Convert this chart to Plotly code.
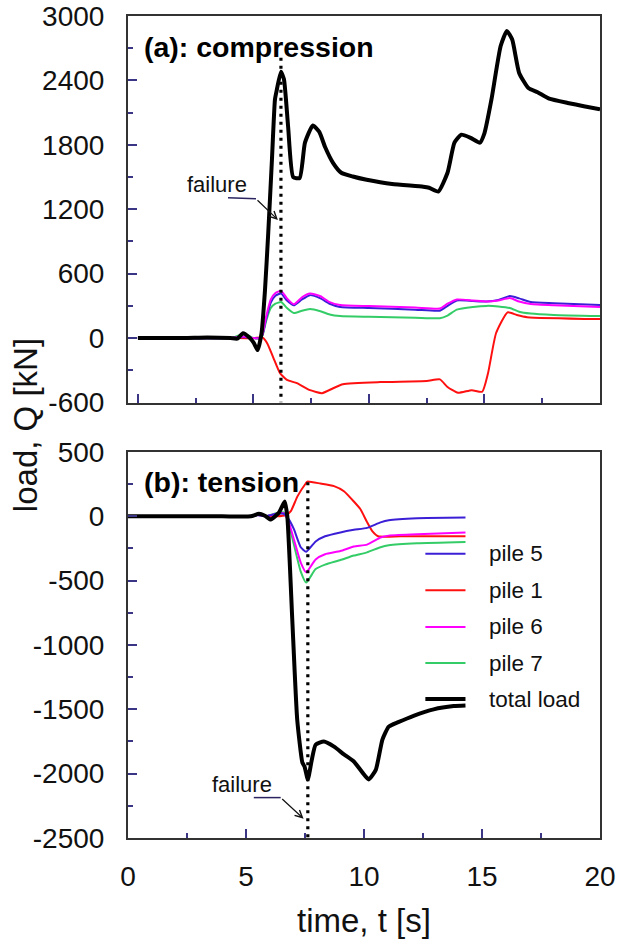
import plotly.graph_objects as go

# ---------------- data: (a) compression ----------------
t_total_a = [0, 1, 2, 3, 4, 4.3, 4.55, 4.8, 5.0, 5.18, 5.35, 5.5, 5.64, 5.8, 5.93, 6.0, 6.19, 6.32, 6.5,
             6.72, 7.0, 7.23, 7.57, 7.85, 8.1, 8.45, 8.8, 9.3, 9.9, 11.0, 12.35, 12.6, 13.0, 13.4, 13.7,
             14.0, 14.4, 14.8, 15.0, 15.3, 15.7, 15.97, 16.2, 16.5, 16.9, 17.3, 17.8, 18.6, 19.3, 20]
q_total_a = [0, 0, 0, 5, 0, -5, 45, 10, -40, -112, 45, 448, 980, 1660, 2220, 2300, 2480, 2410, 1970,
             1500, 1490, 1820, 1980, 1920, 1780, 1630, 1540, 1505, 1475, 1435, 1410, 1400, 1365, 1540, 1820,
             1895, 1865, 1820, 1910, 2220, 2720, 2860, 2780, 2470, 2330, 2290, 2230, 2190, 2160, 2130]

t_piles_a = [0, 4, 4.6, 5.0, 5.3, 5.4, 5.55, 5.75, 5.95, 6.2, 6.45, 6.75, 7.1, 7.45, 7.9, 8.3, 8.75, 10,
             12, 13.07, 13.4, 13.8, 14.5, 15.1, 15.6, 16.1, 16.5, 17.0, 18, 20]
q_pile5_a = [0, 0, 10, 0, 0, 35, 180, 330, 395, 415, 350, 305, 360, 400, 370, 320, 290, 280,
             265, 255, 300, 350, 345, 340, 355, 392, 370, 336, 325, 308]
q_pile6_a = [0, 0, 15, 0, 0, 40, 200, 360, 420, 440, 370, 315, 380, 415, 390, 335, 308, 298,
             285, 275, 320, 360, 350, 340, 350, 373, 340, 317, 305, 290]
q_pile7_a = [0, 0, 40, 0, -5, 30, 160, 280, 320, 336, 280, 233, 255, 270, 250, 220, 205, 198,
             190, 185, 210, 265, 290, 300, 295, 280, 245, 228, 215, 205]

t_pile1_a = [0, 4, 5.0, 5.4, 5.6, 5.85, 6.15, 6.45, 6.88, 7.45, 7.97, 8.45, 8.87, 10.48, 12.5, 13.07,
             13.4, 13.85, 14.45, 14.9, 15.15, 15.5, 16.0, 16.4, 16.85, 20]
q_pile1_a = [0, 0, 0, 5, -50, -177, -327, -390, -420, -485, -513, -467, -430, -410, -400, -385,
             -455, -510, -485, -500, -330, 45, 240, 215, 195, 177]

# ---------------- data: (b) tension ----------------
t_total_b = [0, 2, 4, 5.2, 5.55, 5.8, 6.05, 6.4, 6.64, 6.75, 6.96, 7.17, 7.39, 7.48, 7.62, 7.78, 7.95,
             8.3, 8.73, 9.15, 9.57, 9.93, 10.2, 10.5, 10.78, 11.05, 11.45, 12.1, 12.95, 13.8, 14.3]
q_total_b = [0, 0, 0, 0, 20, 5, -25, 30, 115, 0, -800, -1580, -1915, -1945, -2045, -1900, -1775,
             -1750, -1790, -1850, -1905, -1990, -2045, -1970, -1735, -1635, -1600, -1550, -1500, -1475, -1470]

t_pile1_b = [0, 5.2, 5.5, 5.8, 6.3, 6.7, 6.9, 7.18, 7.53, 7.6, 8.15, 8.73, 9.15, 9.57, 9.85, 10.13,
             10.35, 10.6, 11.55, 14.3]
q_pile1_b = [0, 0, 15, 5, 0, 10, 40, 155, 255, 270, 255, 235, 195, 115, 55, -45,
             -115, -155, -155, -155]

t_piles_b = [0, 5.2, 5.5, 5.8, 6.3, 6.6, 6.8, 7.03, 7.32, 7.55, 7.95, 8.35, 9.0, 9.57, 10.13, 10.7,
             11.05, 12.25, 14.3]
q_pile5_b = [0, 0, 10, 0, 20, 20, -20, -100, -240, -275, -195, -155, -125, -105, -90, -47,
             -30, -15, -10]
q_pile6_b = [0, 0, 10, 0, 20, 25, -40, -180, -360, -435, -335, -295, -270, -235, -220, -165,
             -150, -140, -125]
q_pile7_b = [0, 0, 10, 0, 25, 30, -50, -220, -430, -515, -410, -375, -340, -305, -280, -240,
             -225, -210, -200]

# failure markers
fail_t_a = 6.19
fail_q_a = [2610, -600]
fail_t_b = 7.62
fail_q_b = [265, -2500]

legend_labels = ["pile 5", "pile 1", "pile 6", "pile 7", "total load"]

# tick labels (hyphen-minus as in the original)
yticks_a = [-600, 0, 600, 1200, 1800, 2400, 3000]
yticktext_a = ["-600", "0", "600", "1200", "1800", "2400", "3000"]
yticks_b = [-2500, -2000, -1500, -1000, -500, 0, 500]
yticktext_b = ["-2500", "-2000", "-1500", "-1000", "-500", "0", "500"]
xticks = [0, 5, 10, 15, 20]
xticktext = ["0", "5", "10", "15", "20"]

# ---------------- styles ----------------
C5, C1, C6, C7, CT = "#3a1fd6", "#ff1010", "#ff00ff", "#33cc66", "#000000"
FONT = "Arial, Liberation Sans, sans-serif"
TICKC = "#3b3585"

fig = go.Figure()

def add(x, y, color, width, xa, ya, dash=None, smooth=True):
    line = dict(color=color, width=width, dash=dash)
    if smooth:
        line.update(shape="spline", smoothing=0.5)
    fig.add_trace(go.Scatter(x=x, y=y, mode="lines", xaxis=xa, yaxis=ya, showlegend=False,
                             line=line, hoverinfo="skip"))

# panel a
add(t_pile1_a, q_pile1_a, C1, 2, "x", "y")
add(t_piles_a, q_pile7_a, C7, 2, "x", "y")
add(t_piles_a, q_pile5_a, C5, 2, "x", "y")
add(t_piles_a, q_pile6_a, C6, 2, "x", "y")
add(t_total_a, q_total_a, CT, 4, "x", "y")
add([fail_t_a, fail_t_a], fail_q_a, "#000000", 3.2, "x", "y", dash="3px,5px", smooth=False)

# panel b
add(t_pile1_b, q_pile1_b, C1, 2, "x2", "y2")
add(t_piles_b, q_pile7_b, C7, 2, "x2", "y2")
add(t_piles_b, q_pile6_b, C6, 2, "x2", "y2")
add(t_piles_b, q_pile5_b, C5, 2, "x2", "y2")
add(t_total_b, q_total_b, CT, 4, "x2", "y2")
add([fail_t_b, fail_t_b], fail_q_b, "#000000", 3.2, "x2", "y2", dash="3px,5px", smooth=False)

axis_common = dict(showline=True, mirror=True, linecolor="#333333", linewidth=2, automargin=False,
                   showgrid=False, zeroline=False, ticks="inside", tickcolor=TICKC,
                   tickwidth=1.5, tickfont=dict(family=FONT, size=28, color="#111111"))

fig.update_layout(
    width=617, height=940,
    margin=dict(l=128, r=17, t=16, b=102, autoexpand=False),
    plot_bgcolor="white", paper_bgcolor="white",
    showlegend=False,
    xaxis=dict(axis_common, domain=[0, 1], range=[-0.43, 20], anchor="y",
               tickvals=xticks, ticktext=xticktext, ticklen=9, showticklabels=False,
               minor=dict(dtick=2.5, tick0=0, ticks="inside", ticklen=5, tickcolor=TICKC)),
    yaxis=dict(axis_common, domain=[0.5298, 1], range=[-600, 3000], anchor="x",
               tickvals=yticks_a, ticktext=yticktext_a, ticklen=9, ticklabelstandoff=16,
               minor=dict(dtick=300, tick0=0, ticks="inside", ticklen=5, tickcolor=TICKC)),
    xaxis2=dict(axis_common, domain=[0, 1], range=[0, 20], anchor="y2",
                tickvals=xticks, ticktext=xticktext, ticklen=9, ticklabelstandoff=12,
                minor=dict(dtick=2.5, tick0=0, ticks="inside", ticklen=5, tickcolor=TICKC)),
    yaxis2=dict(axis_common, domain=[0, 0.4696], range=[-2500, 500], anchor="x2",
                tickvals=yticks_b, ticktext=yticktext_b, ticklen=9, ticklabelstandoff=16,
                minor=dict(dtick=250, tick0=0, ticks="inside", ticklen=5, tickcolor=TICKC)),
)

ann = []
# panel titles
ann.append(dict(text="<b>(a): compression</b>", xref="paper", yref="paper", x=0.029, y=0.9623,
                xanchor="left", yanchor="middle", showarrow=False,
                font=dict(family=FONT, size=28.5, color="#000000")))
ann.append(dict(text="<b>(b): tension</b>", xref="paper", yref="paper", x=0.029, y=0.4331,
                xanchor="left", yanchor="middle", showarrow=False,
                font=dict(family=FONT, size=28.5, color="#000000")))
# axis titles
ann.append(dict(text="load, Q [kN]", xref="paper", yref="paper", x=-0.218, y=0.5024,
                xanchor="center", yanchor="middle", textangle=-90, showarrow=False,
                font=dict(family=FONT, size=33, color="#111111")))
ann.append(dict(text="time, t [s]", xref="paper", yref="paper", x=0.499, y=-0.0998,
                xanchor="center", yanchor="middle", showarrow=False,
                font=dict(family=FONT, size=33, color="#111111")))
# failure labels
ann.append(dict(text="failure", xref="x", yref="y", x=3.42, y=1427, showarrow=False,
                xanchor="center", yanchor="middle", font=dict(family=FONT, size=22, color="#111111")))
ann.append(dict(text="", xref="x", yref="y", x=6.06, y=1101, ax=5.11, ay=1297, axref="x", ayref="y",
                showarrow=True, arrowhead=5, arrowsize=1.2, arrowwidth=1.2, arrowcolor="#111111"))
ann.append(dict(text="failure", xref="x2", yref="y2", x=4.82, y=-2085, showarrow=False,
                xanchor="center", yanchor="middle", font=dict(family=FONT, size=22, color="#111111")))
ann.append(dict(text="", xref="x2", yref="y2", x=7.44, y=-2350, ax=6.47, ay=-2186, axref="x2", ayref="y2",
                showarrow=True, arrowhead=5, arrowsize=1.2, arrowwidth=1.2, arrowcolor="#111111"))

shapes = [
    dict(type="line", xref="x", yref="y", x0=3.9, x1=5.11, y0=1306, y1=1297,
         line=dict(color="#2a2560", width=1.5)),
    dict(type="line", xref="x2", yref="y2", x0=5.33, x1=6.47, y0=-2186, y1=-2186,
         line=dict(color="#2a2560", width=1.5)),
]

# legend (manual, inside panel b)
leg_colors = [C5, C1, C6, C7, CT]
leg_widths = [2, 2, 2, 2, 4]
leg_y = [-290, -575, -860, -1140, -1420]
for lab, col, w, yy in zip(legend_labels, leg_colors, leg_widths, leg_y):
    shapes.append(dict(type="line", xref="x2", yref="y2", x0=12.6, x1=14.3, y0=yy, y1=yy,
                       line=dict(color=col, width=w)))
    ann.append(dict(text=lab, xref="x2", yref="y2", x=15.2, y=yy, xanchor="left", yanchor="middle",
                    showarrow=False, font=dict(family=FONT, size=22.5, color="#111111")))

fig.update_layout(annotations=ann, shapes=shapes)
fig.write_html("out.html")
